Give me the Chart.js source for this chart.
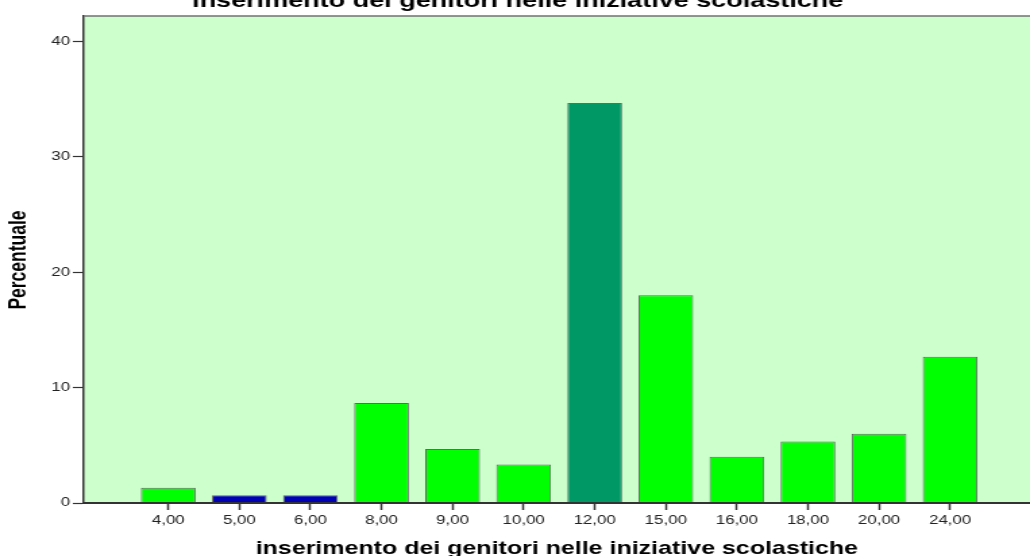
<!DOCTYPE html>
<html>
<head>
<meta charset="utf-8">
<script src="https://cdn.jsdelivr.net/npm/chart.js@4.4.1/dist/chart.umd.min.js"></script>
<style>
    html, body { margin: 0; padding: 0; background: #fff; overflow: hidden; }
    #chart { display: block; }
</style>
</head>
<body>
<!-- canvas is drawn narrow and stretched sideways, like the exported chart -->
<canvas id="chart" width="763" height="556" style="width:1030px;height:556px"></canvas>
<script>
// -- Data --
const categories = ['4,00', '5,00', '6,00', '8,00', '9,00', '10,00', '12,00', '15,00', '16,00', '18,00', '20,00', '24,00'];
const percentages = [1.33, 0.67, 0.67, 8.67, 4.67, 3.33, 34.67, 18.0, 4.0, 5.33, 6.0, 12.67];
const yTickValues = [0, 10, 20, 30, 40];

const chartTitle = 'inserimento dei genitori nelle iniziative scolastiche';
const xAxisTitle = 'inserimento dei genitori nelle iniziative scolastiche';
const yAxisTitle = 'Percentuale';

// Bar fills, one per category
const barColors = ['#00FF00', '#0000B4', '#0000B4', '#00FF00', '#00FF00', '#00FF00',
                   '#009966', '#00FF00', '#00FF00', '#00FF00', '#00FF00', '#00FF00'];

const FONT = "'Liberation Sans', Arial, sans-serif";

// Plot background, top frame line and the titles
const plotFrame = {
    id: 'plotFrame',
    beforeDraw(chart) {
        const { ctx, chartArea } = chart;
        ctx.save();
        ctx.fillStyle = '#CCFFCC';
        ctx.fillRect(chartArea.left, chartArea.top, chartArea.right - chartArea.left, chartArea.bottom - chartArea.top);
        ctx.restore();
    },
    afterDraw(chart) {
        const { ctx, chartArea } = chart;
        ctx.save();
        ctx.strokeStyle = '#707070';
        ctx.lineWidth = 1.5;
        ctx.beginPath();
        ctx.moveTo(chartArea.left, chartArea.top);
        ctx.lineTo(chartArea.right, chartArea.top);
        ctx.stroke();

        ctx.fillStyle = '#000';
        ctx.textAlign = 'center';
        ctx.textBaseline = 'alphabetic';
        ctx.font = `bold 20px ${FONT}`;
        ctx.fillText(chartTitle, chart.width / 2 + 2, 7);

        ctx.font = `bold 18.5px ${FONT}`;
        ctx.fillText(xAxisTitle, (chartArea.left + chartArea.right) / 2, 554);

        ctx.translate(14, 260);
        ctx.rotate(-Math.PI / 2);
        ctx.textBaseline = 'middle';
        ctx.font = `bold 17.5px ${FONT}`;
        ctx.fillText(yAxisTitle, 0, 0);
        ctx.restore();
    }
};

const ctx = document.getElementById('chart').getContext('2d');

new Chart(ctx, {
    type: 'bar',
    data: {
        datasets: [{
            data: percentages.map((v, i) => ({ x: i, y: v })),
            backgroundColor: barColors,
            borderColor: '#666666',
            borderWidth: 1,
            barPercentage: 0.77,
            categoryPercentage: 1
        }]
    },
    options: {
        responsive: false,
        devicePixelRatio: 1,
        animation: false,
        layout: { padding: { top: 16, left: 0, right: 0, bottom: 0 } },
        plugins: {
            legend: { display: false },
            tooltip: { enabled: false }
        },
        scales: {
            x: {
                type: 'linear',
                min: -1.19,
                max: 12.124,
                offset: false,
                afterBuildTicks: (scale) => {
                    scale.ticks = categories.map((c, i) => ({ value: i }));
                },
                afterFit: (scale) => { scale.height = 53; },
                ticks: {
                    autoSkip: false,
                    maxRotation: 0,
                    padding: 3,
                    color: '#222',
                    font: { family: FONT, size: 12.5 },
                    callback: (value) => categories[value]
                },
                grid: {
                    offset: false,
                    drawOnChartArea: false,
                    drawTicks: true,
                    tickLength: 7,
                    tickColor: '#333',
                    tickWidth: 1.5
                },
                border: { display: true, color: '#333', width: 2, z: 1 }
            },
            y: {
                min: 0,
                max: 42.2,
                afterBuildTicks: (scale) => {
                    scale.ticks = yTickValues.map(v => ({ value: v }));
                },
                afterFit: (scale) => { scale.width = 62; },
                ticks: {
                    padding: 2,
                    color: '#222',
                    font: { family: FONT, size: 12.5 }
                },
                grid: {
                    drawOnChartArea: false,
                    drawTicks: true,
                    tickLength: 8,
                    tickColor: '#333',
                    tickWidth: 1.2
                },
                border: { display: true, color: '#333', width: 1.5, z: 1 }
            }
        }
    },
    plugins: [plotFrame]
});
</script>
</body>
</html>
